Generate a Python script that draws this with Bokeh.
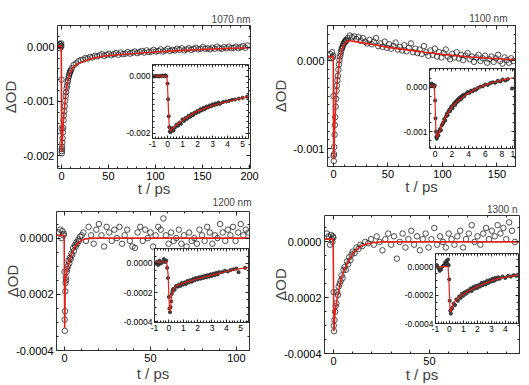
import numpy as np
from bokeh.plotting import figure
from bokeh.models import (LinearAxis, FixedTicker, PrintfTickFormatter, CustomJSTickFormatter,
                          Range1d, GridBox)
from bokeh.embed import file_html
from bokeh.resources import INLINE

U = 1e-4  # all ΔOD values below are given in units of 1e-4

# ---------------- 1070 nm ----------------
t1070_fit = [-4.2, -0.15, 0.0, 0.15, 0.3, 0.6, 1, 1.5, 2, 3, 4, 5, 6, 7, 8, 10, 12, 15, 20, 30, 40, 50, 70, 100, 130, 160, 200]
y1070_fit = [0.2, 0.2, -8, -18.5, -19.3, -18.5, -17, -15.5, -13.8, -11.6, -9.8, -8.2, -7.0, -6.0, -5.3, -4.4, -3.8, -3.3, -2.9, -2.2, -1.8, -1.55, -1.25, -0.9, -0.6, -0.35, -0.1]
t1070 = [-3.0, -2.2, -1.5, -1.0, -0.6, -0.3, -0.1, 0.05, 0.15, 0.25, 0.35, 0.5, 0.7, 0.9, 1.2, 1.5, 1.8, 2.2, 2.6, 3.0,
         3.5, 4.0, 4.5, 5.0, 5.5, 6.0, 6.5, 7.0, 7.5, 8.0, 8.5, 9.0, 9.5, 10.0,
         11, 13, 15.5, 18, 20.5, 23, 25.5, 28, 30.5, 33, 35.5, 38, 40.5, 43, 45.5, 48, 50.5, 53, 55.5, 58,
         60.5, 63, 65.5, 68, 70.5, 73, 75.5, 78, 80.5, 83, 85.5, 88, 90.5, 93, 95.5, 98, 100.5, 103, 105.5, 108,
         110.5, 113, 115.5, 118, 120.5, 123, 125.5, 128, 130.5, 133, 135.5, 138, 140.5, 143, 145.5, 148, 150.5,
         153, 155.5, 158, 160.5, 163, 165.5, 168, 170.5, 173, 175.5, 178, 180.5, 183, 185.5, 188, 190.5, 193, 195.5, 198]
y1070 = [0.3, 0.6, -0.2, 0.5, 0.1, 0.7, 0.2, -6, -15, -18.8, -19.6, -19.2, -18.4, -17.6, -16.8, -15.7, -14.9, -13.5, -12.6, -11.8,
         -10.9, -9.9, -9.0, -8.3, -7.6, -7.1, -6.5, -6.1, -5.6, -5.3, -4.9, -4.7, -4.4, -4.3,
         -3.9, -3.3, -3.0, -2.6, -2.4, -2.3, -2.0, -2.1, -1.8, -1.9, -1.6, -1.7, -1.5, -1.3, -1.6, -1.4, -1.2, -1.5, -1.3, -1.1,
         -1.4, -1.0, -1.3, -1.2, -0.9, -1.2, -1.0, -0.8, -1.1, -0.9, -0.7, -1.0, -0.6, -0.9, -0.8, -0.5, -0.8, -0.7, -0.4, -0.8,
         -0.6, -0.3, -0.7, -0.5, -0.6, -0.3, -0.5, -0.2, -0.6, -0.4, -0.2, -0.5, -0.3, -0.1, -0.4, -0.3, 0.0,
         -0.3, -0.2, -0.4, -0.1, -0.3, 0.1, -0.2, -0.3, 0.0, -0.2, 0.1, -0.2, -0.1, 0.1, -0.2, 0.0, 0.2, -0.1, 0.3]
# inset 1070 nm (early times)
t1070i_fit = [-1, -0.05, 0.0, 0.05, 0.1, 0.15, 0.2, 0.3, 0.5, 1, 1.5, 2, 2.5, 3, 3.5, 4, 4.5, 5, 5.4]
y1070i_fit = [0.1, 0.1, -3, -10, -16, -18.8, -19.2, -18.5, -17.4, -15.4, -13.6, -12.2, -11.2, -10.2, -9.5, -8.9, -8.2, -7.5, -7.0]
t1070i = [-0.95, -0.85, -0.75, -0.65, -0.55, -0.45, -0.35, -0.25, -0.15, -0.08,
          0.0, 0.04, 0.08, 0.12, 0.16, 0.2, 0.25,
          0.3, 0.4, 0.5, 0.6, 0.7, 0.8, 0.9, 1.0, 1.1, 1.2, 1.3, 1.4, 1.5, 1.6, 1.7, 1.8, 1.9, 2.0, 2.1, 2.2,
          2.3, 2.4, 2.5, 2.6, 2.7, 2.8, 2.9, 3.0, 3.1, 3.2, 3.3, 3.4, 3.5,
          3.7, 3.9, 4.1, 4.3, 4.5, 4.75, 5.0, 5.3]
y1070i = [0.1, 0.0, 0.2, 0.1, 0.0, 0.2, 0.3, 0.2, 0.4, 0.1,
          -2.5, -8, -14, -17.8, -19.3, -19.6, -19.0,
          -18.2, -19.0, -17.9, -16.9, -17.3, -16.2, -16.6, -15.1, -15.6, -14.6, -14.9, -13.8, -14.2, -13.2, -13.6, -12.7, -12.9, -12.1, -12.4, -11.5,
          -11.9, -11.0, -11.4, -10.6, -10.9, -10.2, -10.5, -9.8, -10.1, -9.5, -9.8, -9.2, -9.6,
          -9.0, -8.8, -8.6, -8.2, -8.1, -7.8, -7.5, -7.1]

# ---------------- 1100 nm ----------------
t1100_fit = [-5.5, -0.2, 0.0, 0.2, 0.4, 1, 2, 3, 4, 5, 6, 8, 10, 12, 15, 20, 30, 40, 50, 75, 84, 100, 125, 150, 167]
y1100_fit = [0.5, 0.5, -6, -11.2, -11.0, -8.0, -5.0, -3.0, -1.6, -0.5, 0.4, 1.4, 1.9, 2.2, 2.3, 2.2, 2.0, 1.8, 1.55, 1.15, 1.0, 0.75, 0.45, 0.25, 0.12]
t1100 = [-3, -2, -1.3, -0.7, -0.3, 0.0, 0.15, 0.3, 0.5, 0.7, 1.0, 1.3, 1.6, 2.0, 2.4, 2.8, 3.2, 3.6, 4.0, 4.5,
         5.0, 5.5, 6.0, 6.5, 7.0, 7.5, 8.0, 8.5, 9.0, 9.5, 10, 10.5, 11, 11.5, 12,
         13, 15, 17, 19, 21, 23, 25, 27, 29, 31, 33, 35, 37, 39, 41, 43, 45, 47, 49, 51, 53, 55, 57, 59, 61, 63,
         65, 67, 69, 71, 73, 75, 77, 79, 81, 83, 85, 87, 89, 91, 93, 95, 97, 99, 101, 103, 105, 107, 109, 111,
         113, 115, 117, 119, 121, 123, 125, 127, 129, 131, 133, 135, 137, 139, 141, 143, 145, 147, 149, 151,
         153, 155, 157, 159, 161, 163, 165]
y1100 = [0.8, 0.3, 1.0, 0.4, 0.6, -4, -10.8, -11.4, -10.6, -9.8, -8.4, -7.3, -6.4, -5.2, -4.3, -3.4, -2.8, -2.2, -1.7, -1.0,
         -0.4, 0.1, 0.5, 0.8, 1.1, 1.4, 1.5, 1.7, 1.9, 2.0, 2.1, 2.2, 2.3, 2.4, 2.3,
         2.6, 2.9, 2.7, 2.8, 2.5, 2.7, 2.3, 2.6, 2.2, 2.0, 2.4, 1.9, 2.2, 2.6, 1.7, 2.0, 1.6, 2.2, 1.5, 1.9, 1.4, 1.7, 2.1, 1.3, 1.6, 1.2,
         1.8, 1.1, 1.5, 2.0, 1.0, 1.4, 0.9, 1.3, 0.8, 1.7, 1.0, 0.6, 1.2, 0.7, 1.4, 0.5, 1.0, 0.4, 0.9, 1.3, 0.5, 0.2, 0.8, 0.4,
         1.0, 0.3, 0.7, 0.1, 0.6, 0.9, 0.2, 0.5, -0.1, 0.4, 0.7, 0.0, 0.3, 0.6, -0.2, 0.2, 0.5, -0.1, 0.3, 0.7,
         0.0, -0.3, 0.4, 0.1, -0.2, 0.3, 0.0]
# inset 1100 nm
t1100i_fit = [-0.67, -0.1, 0.0, 0.1, 0.2, 0.3, 0.6, 1, 1.5, 2, 2.5, 3, 4, 5, 6, 7, 8, 9, 9.5]
y1100i_fit = [0.3, 0.3, -4, -10, -11.3, -11.0, -9.6, -7.6, -5.9, -4.5, -3.5, -2.7, -1.3, -0.3, 0.5, 1.1, 1.6, 2.0, 2.1]
t1100i = [-0.6, -0.5, -0.4, -0.3, -0.2, -0.1, -0.05, 0.0, 0.05, 0.1, 0.15, 0.2, 0.25,
          0.3, 0.4, 0.5, 0.6, 0.7, 0.8, 0.9, 1.0, 1.1, 1.2, 1.3, 1.4, 1.5, 1.6, 1.7, 1.8, 1.9, 2.0, 2.1, 2.2,
          2.3, 2.4, 2.5, 2.6, 2.7, 2.8, 2.9, 3.0, 3.1, 3.2, 3.3, 3.4, 3.5,
          3.7, 3.9, 4.1, 4.3, 4.5, 4.7, 4.9, 5.1, 5.4, 5.7, 6.0, 6.3, 6.6, 6.9, 7.2, 7.5, 7.8, 8.1, 8.4, 8.7, 9.2]
y1100i = [0.6, 0.2, 0.8, 0.3, 0.5, 0.1, 0.4, -3, -7, -10, -11.2, -11.6, -11.0,
          -10.6, -10.9, -9.9, -9.4, -9.7, -8.6, -8.3, -7.9, -7.2, -7.5, -6.6, -6.0, -6.3, -5.5, -5.1, -5.4, -4.6, -4.3, -4.7, -3.9,
          -3.6, -4.0, -3.2, -3.4, -2.8, -3.1, -2.5, -2.3, -2.7, -2.0, -2.2, -1.7, -2.0,
          -1.5, -1.1, -1.3, -0.8, -0.9, -0.5, -0.6, -0.2, 0.1, 0.2, 0.6, 0.5, 0.9, 1.1, 1.0, 1.4, 1.3, 1.7, 1.5, 1.8, -0.3]

# ---------------- 1200 nm ----------------
t1200_fit = [-4.65, -0.2, 0.0, 0.1, 0.2, 0.4, 0.7, 1, 1.5, 2, 3, 4, 5, 6, 7, 8, 10, 12, 15, 20, 107.6]
y1200_fit = [0.1, 0.1, -1.5, -3.2, -2.9, -1.8, -1.5, -1.3, -1.15, -1.0, -0.8, -0.6, -0.45, -0.33, -0.24, -0.17, -0.08, -0.03, -0.01, 0.0, 0.0]
t1200 = [-3.5, -2.5, -1.8, -1.2, -0.7, -0.3, 0.0, 0.1, 0.2, 0.3, 0.45, 0.6, 0.8, 1.0, 1.3, 1.6, 2.0, 2.4, 2.8, 3.2,
         3.6, 4.0, 4.5, 5.0, 5.5, 6.0, 6.5, 7.0, 7.5, 8.0, 8.5, 9, 10,
         11, 12.5, 14, 15.5, 17, 18.5, 20, 21.5, 23, 24.5, 26, 27.5, 29, 30.5, 32, 33.5, 35, 36.5, 38, 39.5, 41,
         42.5, 44, 45.5, 47, 48.5, 50, 51.5, 53, 54.5, 56, 57.5, 59, 60.5, 62, 63.5, 65, 66.5, 68, 69.5, 71, 72.5,
         74, 75.5, 77, 78.5, 80, 81.5, 83, 84.5, 86, 87.5, 89, 90.5, 92, 93.5, 95, 96.5, 98, 99.5, 101, 102.5, 104, 105.5, 107]
y1200 = [0.2, 0.3, 0.0, 0.25, 0.1, 0.15, -1.2, -2.9, -3.3, -2.6, -1.9, -1.6, -1.4, -1.5, -1.2, -1.1, -1.0, -0.8, -0.9, -0.7,
         -0.75, -0.55, -0.6, -0.35, -0.45, -0.25, -0.3, -0.15, -0.2, -0.05, -0.1, 0.05, 0.1,
         0.2, -0.1, 0.4, 0.1, -0.2, 0.3, 0.5, 0.1, -0.3, 0.4, 0.2, -0.1, 0.3, 0.0, 0.4, -0.2, 0.1, 0.3, -0.1, -0.3, -0.35,
         0.2, 0.4, -0.1, 0.3, 0.0, 0.2, -0.3, 0.1, 0.4, 0.3, 0.7, 0.1, -0.2, 0.2, -0.1, 0.0, 0.3, -0.2, 0.1, -0.3, 0.2,
         -0.1, 0.0, -0.2, 0.3, 0.1, -0.1, 0.4, 0.2, -0.2, 0.1, 0.0, 0.5, 0.2, -0.1, 0.3, 0.1, 0.4, -0.1, 0.2, 0.5, 0.1, 0.3, 0.2]
# inset 1200 nm
t1200i_fit = [-1, -0.15, -0.05, 0.0, 0.05, 0.1, 0.15, 0.2, 0.3, 0.4, 0.6, 1.0, 1.5, 2, 3, 4, 5, 5.54]
y1200i_fit = [0.1, 0.1, -0.8, -2.2, -3.2, -3.3, -2.8, -2.2, -1.8, -1.65, -1.5, -1.35, -1.2, -1.05, -0.8, -0.55, -0.35, -0.28]
t1200i = [-0.95, -0.85, -0.75, -0.65, -0.55, -0.45, -0.35, -0.25, -0.18, -0.12,
          -0.06, 0.0, 0.04, 0.08, 0.12, 0.16, 0.2, 0.25,
          0.3, 0.4, 0.5, 0.6, 0.7, 0.8, 0.9, 1.0, 1.1, 1.2, 1.3, 1.4, 1.5, 1.6, 1.7, 1.8, 1.9, 2.0, 2.1, 2.2,
          2.3, 2.4, 2.5, 2.6, 2.7, 2.8, 2.9, 3.0, 3.1, 3.2, 3.3, 3.4, 3.5,
          3.7, 3.9, 4.1, 4.3, 4.5, 4.7, 4.85, 5.3]
y1200i = [0.0, 0.1, -0.1, 0.2, 0.0, 0.1, 0.3, 0.1, 0.2, -0.3,
          -1.0, -2.3, -3.1, -3.35, -3.0, -2.6, -2.1, -1.9,
          -1.75, -1.8, -1.55, -1.6, -1.45, -1.55, -1.35, -1.45, -1.3, -1.4, -1.2, -1.3, -1.15, -1.25, -1.05, -1.15, -1.0, -1.1, -0.95, -1.05,
          -0.9, -1.0, -0.85, -0.95, -0.8, -0.9, -0.75, -0.85, -0.7, -0.8, -0.65, -0.75, -0.6,
          -0.6, -0.5, -0.55, -0.45, -0.4, -0.35, -0.6, -0.3]

# ---------------- 1300 nm ----------------
t1300_fit = [-4.7, -0.2, 0.0, 0.15, 0.3, 0.6, 1, 2, 3, 4, 5, 6, 8, 10, 12, 15, 20, 25, 96.9]
y1300_fit = [0.1, 0.1, -1.5, -3.2, -3.1, -2.7, -2.4, -2.0, -1.65, -1.3, -1.1, -0.95, -0.65, -0.42, -0.27, -0.12, -0.03, 0.0, 0.0]
t1300 = [-3.5, -2.5, -1.8, -1.3, -0.9, -0.6, -0.3, -0.1, 0.05, 0.15, 0.3, 0.5, 0.8, 1.1, 1.5, 1.9, 2.3, 2.7, 3.2, 3.7,
         4.2, 4.7, 5.2, 5.8, 6.4, 7.0, 7.6, 8.2, 8.8, 9.4, 10, 11, 12, 13, 14, 15, 16.5, 18,
         19.5, 21, 22.5, 24, 25.5, 27, 28.5, 30, 31.5, 33, 34.5, 36, 37.5, 39, 40.5, 42, 43.5, 45, 46.5, 48, 49.5,
         51, 52.5, 54, 55.5, 57, 58.5, 60, 61.5, 63, 64.5, 66, 67.5, 69, 70.5, 72, 73.5, 75, 76.5, 78, 79.5, 81,
         82.5, 84, 85.5, 87, 88.5, 90, 91.5, 93, 94.5]
y1300 = [0.3, 0.2, -0.1, 0.25, 0.1, 0.0, 0.2, 0.15, -1.8, -3.0, -3.2, -2.8, -2.5, -2.3, -2.2, -1.8, -1.9, -1.6, -1.5, -1.4,
         -1.2, -1.3, -1.0, -0.9, -1.0, -0.7, -0.8, -0.55, -0.65, -0.45, -0.35, -0.4, -0.2, -0.25, -0.1, -0.15, 0.0, -0.05,
         0.1, -0.1, 0.2, 0.0, -0.3, 0.1, 0.3, -0.1, 0.2, -0.6, 0.0, 0.3, -0.2, 0.1, 0.4, -0.1, 0.2, -0.3, 0.1, 0.3, -0.2,
         0.1, 0.5, -0.1, 0.2, 0.0, -0.2, 0.3, 0.1, -0.1, 0.2, 0.4, -0.2, 0.1, 0.3, 0.6, 0.0, 0.2, -0.1, 0.3, 0.5, 0.1,
         0.4, 0.2, 0.6, 0.3, 0.5, 0.1, 0.7, 0.4, 0.0]
# inset 1300 nm
t1300i_fit = [-1, -0.1, -0.03, 0.03, 0.08, 0.12, 0.2, 0.35, 0.6, 1, 1.5, 2, 2.5, 3, 3.5, 4, 4.5, 4.95]
y1300i_fit = [0.0, 0.0, -1.2, -2.8, -3.2, -3.1, -2.8, -2.5, -2.2, -1.95, -1.65, -1.4, -1.2, -1.0, -0.85, -0.75, -0.65, -0.6]
t1300i = [-0.9, -0.8, -0.7, -0.6, -0.5, -0.4, -0.3, -0.25, -0.2, -0.15, -0.1, -0.06,
          -0.02, 0.02, 0.06, 0.1, 0.14,
          0.2, 0.3, 0.4, 0.5, 0.6, 0.7, 0.8, 0.9, 1.0, 1.1, 1.2, 1.3, 1.4, 1.5, 1.6, 1.7, 1.8, 1.9, 2.0, 2.1,
          2.2, 2.3, 2.4, 2.5, 2.6, 2.7, 2.8, 2.9, 3.0, 3.1, 3.2, 3.3, 3.4, 3.5, 3.6,
          3.8, 4.0, 4.2, 4.4, 4.6, 4.8]
y1300i = [0.1, -0.1, -0.3, -0.2, 0.0, 0.1, 0.3, 0.2, 0.4, 0.2, 0.5, 0.1,
          -0.9, -2.4, -3.1, -3.3, -3.0,
          -2.9, -2.6, -2.7, -2.3, -2.4, -2.1, -2.2, -1.9, -2.05, -1.8, -1.9, -1.7, -1.75, -1.55, -1.7, -1.45, -1.55, -1.35, -1.5, -1.3,
          -1.4, -1.15, -1.3, -1.1, -1.25, -1.0, -1.15, -0.95, -1.05, -0.85, -1.0, -0.8, -0.9, -0.75, -0.85,
          -0.7, -0.8, -0.65, -0.7, -0.6, -0.65]

labels = ["1070 nm", "1100 nm", "1200 nm", "1300 n"]

# ---------------- styling ----------------
FONT = "Liberation Sans"
RED = "#e0241b"
INK = "#222222"


def ticks_between(a, b, step):
    n = int(round((b - a) / step))
    return [a + i * step for i in range(n + 1)]


def build(xr, yr, frame, borders, xt, xminor, yt, yminor, yfmt, inset,
          xlabel=None, ylabel=None, title=None, xoverride=None,
          tstand=2, toff=0, ylab_standoff=1, xlab_standoff=-2):
    fx0, fy0, fx1, fy1 = frame
    L, R, T, B = borders
    p = figure(x_range=Range1d(*xr), y_range=Range1d(*yr),
               width=L + (fx1 - fx0) + R, height=T + (fy1 - fy0) + B,
               min_border_left=L, min_border_right=R, min_border_top=T, min_border_bottom=B,
               output_backend="svg", toolbar_location=None, tools="")
    p.margin = (fy0 - T, 0, 0, fx0 - L)
    p.border_fill_color = None
    p.background_fill_color = "white"
    p.outline_line_color = "#333333"
    p.outline_line_width = 1
    p.grid.visible = False
    top_ax = LinearAxis()
    right_ax = LinearAxis()
    p.add_layout(top_ax, "above")
    p.add_layout(right_ax, "right")
    xtk = FixedTicker(ticks=xt, minor_ticks=xminor)
    ytk = FixedTicker(ticks=yt, minor_ticks=yminor)
    maj, mnr = (3, 2) if inset else (4, 2)
    fs = "8.5px" if inset else "11px"
    p.below[0].ticker = xtk
    p.below[0].formatter = PrintfTickFormatter(format="%d")
    p.left[0].ticker = ytk
    p.left[0].formatter = PrintfTickFormatter(format=yfmt)
    top_ax.ticker = xtk
    right_ax.ticker = ytk
    for ax in [p.below[0], p.left[0], top_ax, right_ax]:
        ax.axis_line_color = None
        ax.major_tick_in = maj
        ax.major_tick_out = 0
        ax.minor_tick_in = mnr
        ax.minor_tick_out = 0
        ax.major_tick_line_color = INK
        ax.minor_tick_line_color = INK
        ax.major_label_text_font = FONT
        ax.major_label_text_font_size = fs
        ax.major_label_text_color = "black"
        ax.major_label_standoff = 2 if inset else 3
    for ax in [top_ax, right_ax]:
        # frame ticks only: these two axes carry no labels
        ax.formatter = CustomJSTickFormatter(code="return ''")
        ax.major_label_text_font_size = "1px"
        ax.major_label_standoff = 0
    if xoverride:
        p.below[0].major_label_overrides = xoverride
    if xlabel:
        ax = p.below[0]
        ax.axis_label = xlabel
        ax.axis_label_text_font = FONT
        ax.axis_label_text_font_size = "15px"
        ax.axis_label_text_font_style = "normal"
        ax.axis_label_standoff = xlab_standoff
    if ylabel:
        ax = p.left[0]
        ax.axis_label = ylabel
        ax.axis_label_text_font = FONT
        ax.axis_label_text_font_size = "15px"
        ax.axis_label_text_font_style = "normal"
        ax.axis_label_standoff = ylab_standoff
    if title:
        p.title.text = title
        p.title.align = "right"
        p.title.text_font = FONT
        p.title.text_font_size = "10px"
        p.title.text_font_style = "normal"
        p.title.standoff = tstand
        p.title.offset = toff
    else:
        p.title_location = None
    return p


def draw(p, t, y, tf, yf, inset):
    y = np.asarray(y) * U
    yf = np.asarray(yf) * U
    if inset:
        p.scatter(t, y, marker="circle", size=3.2, line_color=INK, line_width=0.8,
                  fill_color="#444444")
        p.line(tf, yf, line_color=RED, line_width=1.2)
    else:
        p.scatter(t, y, marker="circle", size=5.5, line_color=INK, line_width=0.8,
                  fill_color=None)
        p.line(tf, yf, line_color=RED, line_width=1.6)


INS_B = (45, 10, 32, 42)    # left, right, top, bottom borders of the insets

mains = []
insets = []

# 1070 nm
p = build((-4.2, 201), (-22.4 * U, 4.0 * U), (57, 23, 250, 168), (72, 10, 30, 52),
          [0, 50, 100, 150, 200], ticks_between(0, 200, 10),
          [-0.002, -0.001, 0.0], ticks_between(-0.0022, 0.0004, 0.0002), "%.3f", False,
          xlabel="t / ps", ylabel="ΔOD", title=labels[0], tstand=2, toff=0, xlab_standoff=-3)
draw(p, t1070, y1070, t1070_fit, y1070_fit, False)
mains.append(p)
q = build((-1, 5.4), (-21.8 * U, 4.2 * U), (125, 64, 248, 148), INS_B,
          [-1, 0, 1, 2, 3, 4, 5], ticks_between(-1, 5.4, 0.2),
          [-0.002, 0.0], ticks_between(-0.0022, 0.0004, 0.0002), "%.3f", True)
draw(q, t1070i, y1070i, t1070i_fit, y1070i_fit, True)
insets.append(q)

# 1100 nm
p = build((-5.5, 167), (-12.02 * U, 4.04 * U), (327, 23, 515, 166), (72, 10, 30, 52),
          [0, 50, 100, 150], ticks_between(0, 160, 10),
          [-0.001, 0.0], ticks_between(-0.0012, 0.0004, 0.0001), "%.3f", False,
          xlabel="t / ps", ylabel="ΔOD", title=labels[1], tstand=3, toff=8, xlab_standoff=-3)
draw(p, t1100, y1100, t1100_fit, y1100_fit, False)
mains.append(p)
q = build((-0.67, 9.5), (-13.8 * U, 4.2 * U), (402, 68, 514, 158), INS_B,
          [0, 2, 4, 6, 8, 9.3], ticks_between(-0.5, 9.5, 0.5),
          [-0.001, 0.0], ticks_between(-0.0012, 0.0004, 0.0002), "%.3f", True,
          xoverride={9.3: "1"})
draw(q, t1100i, y1100i, t1100i_fit, y1100i_fit, True)
insets.append(q)

# 1200 nm
p = build((-4.65, 107.6), (-4.0 * U, 0.947 * U), (56, 209, 249, 350), (72, 10, 30, 52),
          [0, 50, 100], ticks_between(0, 100, 10),
          [-0.0004, -0.0002, 0.0], ticks_between(-0.0004, 0.00005, 0.00005), "%.4f", False,
          xlabel="t / ps", ylabel="ΔOD", title=labels[2], tstand=7, toff=-2,
          ylab_standoff=-8, xlab_standoff=0)
draw(p, t1200, y1200, t1200_fit, y1200_fit, False)
mains.append(p)
q = build((-1, 5.54), (-4.06 * U, 1.03 * U), (127, 248, 248, 332), INS_B,
          [-1, 0, 1, 2, 3, 4, 5], ticks_between(-1, 5.4, 0.2),
          [-0.0004, -0.0002, 0.0], ticks_between(-0.0004, 0.0001, 0.00005), "%.4f", True)
draw(q, t1200i, y1200i, t1200i_fit, y1200i_fit, True)
insets.append(q)

# 1300 nm
p = build((-4.7, 96.9), (-4.0 * U, 0.947 * U), (324, 213, 519, 353), (72, 10, 30, 52),
          [0, 50], ticks_between(0, 90, 10),
          [-0.0004, -0.0002, 0.0], ticks_between(-0.0004, 0.00005, 0.00005), "%.4f", False,
          xlabel="t / ps", ylabel="ΔOD", title=labels[3], tstand=2, toff=2,
          ylab_standoff=-8, xlab_standoff=-2)
draw(p, t1300, y1300, t1300_fit, y1300_fit, False)
mains.append(p)
q = build((-1, 4.95), (-4.0 * U, 0.92 * U), (408, 253, 518, 333), INS_B,
          [-1, 0, 1, 2, 3, 4], ticks_between(-1, 4.8, 0.2),
          [-0.0004, -0.0002, 0.0], ticks_between(-0.0004, 0.00005, 0.00005), "%.4f", True)
draw(q, t1300i, y1300i, t1300i_fit, y1300i_fit, True)
insets.append(q)

# the panels' canvases reach a little past the page; clip them at the page edge
layout = GridBox(children=[(f, 0, 0) for f in mains + insets], spacing=0,
                 width=529, height=385, styles={"overflow": "hidden"})
open("out.html", "w").write(file_html(layout, INLINE))
